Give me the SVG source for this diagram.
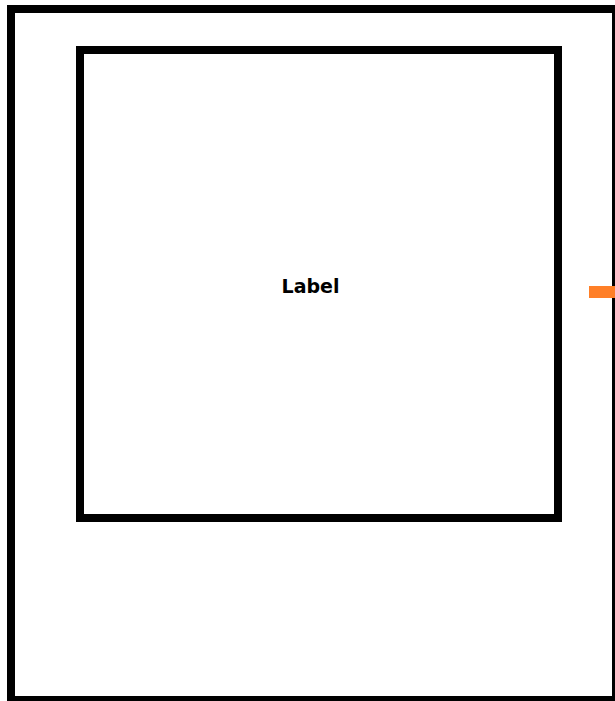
<svg xmlns="http://www.w3.org/2000/svg" width="615" height="701" viewBox="0 0 615 701">
<style>
.box{fill:none;stroke:#000;stroke-width:8}
.lbl{font-family:"DejaVu Sans",sans-serif;font-weight:bold;font-size:19px;fill:#000}
</style>
<rect width="615" height="701" fill="#fff"/>
<g id="outer"><rect class="box" x="11" y="9" width="605" height="691"/></g>
<g id="inner"><rect class="box" x="80" y="50" width="478" height="468"/>
<text class="lbl" x="310.5" y="293" text-anchor="middle">Label</text></g>
<g id="connectors"><rect x="589" y="286" width="26" height="12" fill="#ff7f27"/></g>
</svg>
